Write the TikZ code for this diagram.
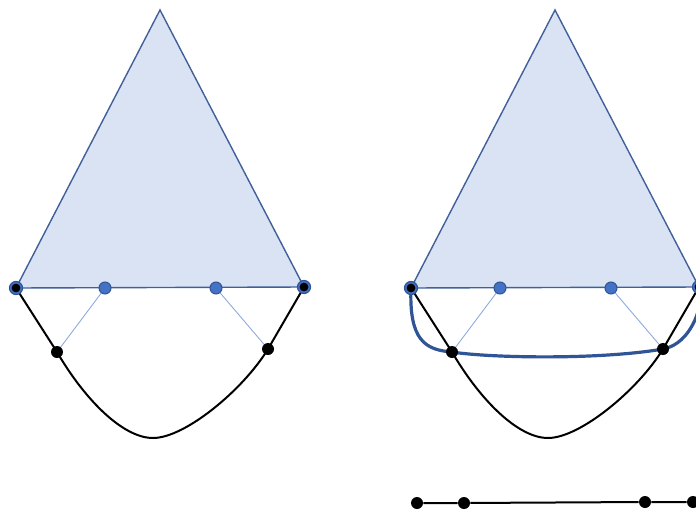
\documentclass[tikz,border=0pt]{standalone}
\usepackage{tikz}
\usetikzlibrary{calc}
\definecolor{trifill}{HTML}{DAE3F3}
\definecolor{triedge}{HTML}{41609A}
\definecolor{dotfill}{HTML}{4472C4}
\definecolor{dotedge}{HTML}{2F5597}
\definecolor{linkblue}{HTML}{8FAADC}
\definecolor{bandblue}{HTML}{2F5597}

\begin{document}
\begin{tikzpicture}[
    x=0.5pt, y=-0.5pt,
    tri/.style={draw=triedge, fill=trifill, line width=0.7pt},
    link/.style={draw=linkblue, line width=0.45pt},
    bcurve/.style={draw=black, line width=1pt},
    band/.style={draw=bandblue, line width=1.6pt},
    bdot/.style={circle, draw=dotedge, fill=dotfill, line width=0.5pt,
                 inner sep=0pt, minimum size=6pt},
    vdot/.style={circle, draw=dotedge, fill=dotfill, line width=0.6pt,
                 inner sep=0pt, minimum size=6.5pt},
    kdot/.style={circle, fill=black, inner sep=0pt, minimum size=6pt},
    kmini/.style={circle, fill=black, inner sep=0pt, minimum size=4.4pt},
]
\clip (0,0) rectangle (696,514);

% left figure
\coordinate (topL) at (160,10);
\coordinate (l0) at (16,288);
\coordinate (l1) at (105,288);
\coordinate (l2) at (216,288);
\coordinate (l3) at (304,287);
\coordinate (la) at (57,352);
\coordinate (lb) at (153,438);
\coordinate (lc) at (268,349);

\draw[tri] (topL) -- (l0) -- (l3) -- cycle;
\draw[link] (l1) -- (la);
\draw[link] (l2) -- (lc);
\draw[bcurve] (l0) -- (la) .. controls +(28,48) and +(-30,0) .. (lb)
    .. controls +(32,0) and +(-25,41) .. (lc) -- (l3);

\node[vdot] (nl0) at (l0) {};
\node[kmini] at (l0) {};
\node[bdot] (nl1) at (l1) {};
\node[bdot] (nl2) at (l2) {};
\node[vdot] (nl3) at (l3) {};
\node[kmini] at (l3) {};
\node[kdot] (nla) at (la) {};
\node[kdot] (nlc) at (lc) {};

% right figure
\coordinate (topR) at (555,10);
\coordinate (r0) at (411,288);
\coordinate (r1) at (500,288);
\coordinate (r2) at (611,288);
\coordinate (r3) at (699,287);
\coordinate (ra) at (452,352);
\coordinate (rb) at (548,438);
\coordinate (rc) at (663,349);
\coordinate (rend) at (702,290);

\draw[tri] (topR) -- (r0) -- (r3) -- cycle;
\draw[link] (r1) -- (ra);
\draw[link] (r2) -- (rc);
\draw[bcurve] (r0) -- (ra) .. controls +(28,48) and +(-30,0) .. (rb)
    .. controls +(32,0) and +(-25,41) .. (rc) -- (r3);
\draw[band] (r0) .. controls (409,340) and (425,350) .. (ra)
    .. controls (490,358) and (600,360) .. (rc)
    .. controls (685,345) and (700,320) .. (rend);

\node[vdot] (nr0) at (r0) {};
\node[kmini] at (r0) {};
\node[bdot] (nr1) at (r1) {};
\node[bdot] (nr2) at (r2) {};
\node[vdot] (nr3) at (r3) {};
\node[kmini] at (r3) {};
\node[kdot] (nra) at (ra) {};
\node[kdot] (nrc) at (rc) {};

% bottom segment
\node[kdot] (p1) at (417,503) {};
\node[kdot] (p2) at (464,503) {};
\node[kdot] (p3) at (645,502) {};
\node[kdot] (p4) at (693,502) {};
\draw[bcurve] (p1) -- (p2) -- (p3) -- (p4);
\end{tikzpicture}
\end{document}
